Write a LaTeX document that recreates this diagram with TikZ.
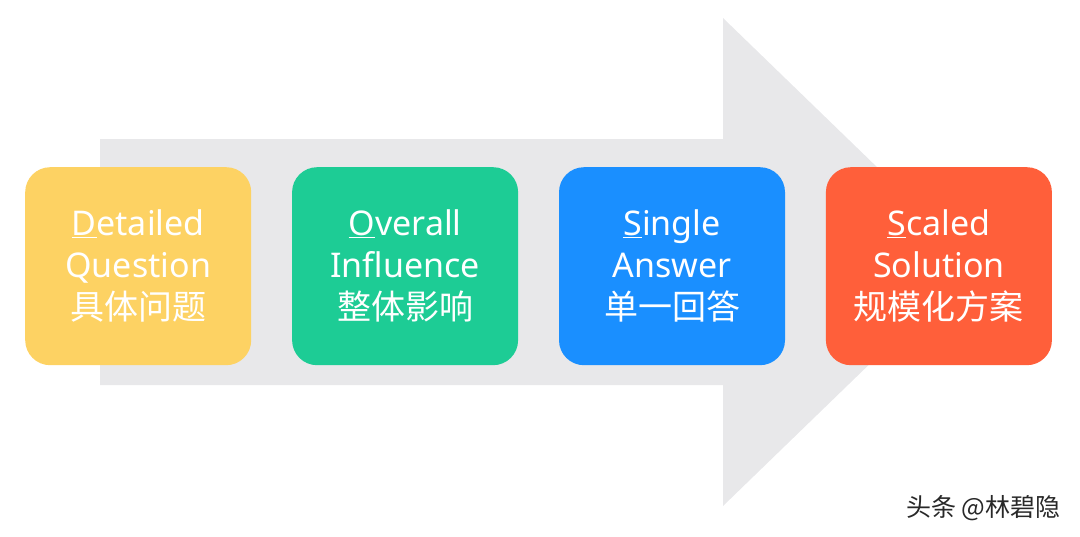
\documentclass[tikz,border=0pt]{standalone}
\usepackage{fontspec}
\setmainfont{Noto Sans}
\newfontfamily\cjk{Noto Sans CJK SC}
\usetikzlibrary{positioning}
\definecolor{arrowgray}{RGB}{232,232,234}
\definecolor{stepyellow}{RGB}{253,210,99}
\definecolor{stepgreen}{RGB}{29,204,149}
\definecolor{stepblue}{RGB}{26,143,255}
\definecolor{stepred}{RGB}{255,95,58}
\definecolor{marktext}{RGB}{40,40,40}

\begin{document}
\begin{tikzpicture}[x=1pt, y=-1pt,
  stagebox/.style={rounded corners=25pt, minimum width=226pt, minimum height=198pt,
                   align=center, text=white, inner sep=0pt,
                   font=\fontsize{34}{42}\selectfont},
  node distance=40.5pt
]
\useasboundingbox (0,0) rectangle (1080,536);

% background arrow
\fill[arrowgray] (100,139) -- (723,139) -- (723,18) -- (975,262)
  -- (723,506) -- (723,385) -- (100,385) -- cycle;

% stages
\node[stagebox, fill=stepyellow, anchor=north west] (detail) at (25,167)
  {\underline{D}etailed\\Question\\{\cjk 具体问题}};
\node[stagebox, fill=stepgreen, right=of detail] (overall)
  {\underline{O}verall\\Influence\\{\cjk 整体影响}};
\node[stagebox, fill=stepblue, right=of overall] (single)
  {\underline{S}ingle\\Answer\\{\cjk 单一回答}};
\node[stagebox, fill=stepred, right=of single] (scaled)
  {\underline{S}caled\\Solution\\{\cjk 规模化方案}};

% watermark
\node[anchor=east, text=marktext, font=\cjk\fontsize{25}{28}\selectfont] (mark) at (1064,508) {头条 @林碧隐};
\end{tikzpicture}
\end{document}
